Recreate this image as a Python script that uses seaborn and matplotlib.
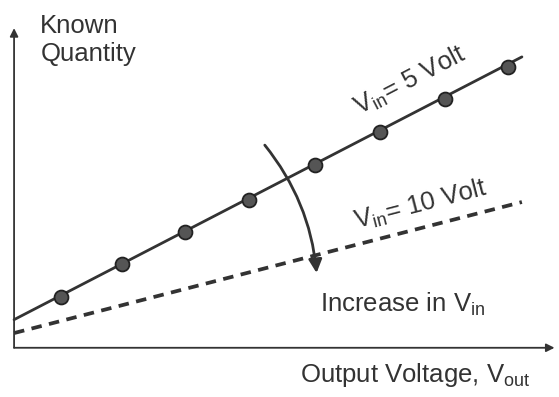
import numpy as np
import pandas as pd
import matplotlib
matplotlib.use("Agg")
import matplotlib.pyplot as plt
import seaborn as sns
from matplotlib.patches import FancyArrowPatch

# data (arbitrary units)
vout_points = [0.73, 1.69, 2.67, 3.67, 4.70, 5.72, 6.73, 7.73]
known_points = [0.80, 1.31, 1.81, 2.31, 2.86, 3.37, 3.89, 4.39]
line_x = [0.0, 7.94]
vin5_y = [0.44, 4.55]
vin10_y = [0.23, 2.28]

sns.set_style("white")
plt.rcParams['font.family'] = ['Liberation Sans', 'DejaVu Sans']
plt.rcParams['mathtext.fontset'] = 'custom'
plt.rcParams['mathtext.rm'] = 'Liberation Sans'

ink = '#333333'

fig = plt.figure(figsize=(5.59, 3.97), dpi=100)
ax = fig.add_axes([0, 0, 1, 1])

df_lines = pd.DataFrame({'x': line_x + line_x,
                         'y': vin5_y + vin10_y,
                         'vin': ['5'] * 2 + ['10'] * 2})
sns.lineplot(data=df_lines[df_lines.vin == '5'], x='x', y='y', ax=ax,
             color=ink, lw=2.0, legend=False)
sns.lineplot(data=df_lines[df_lines.vin == '10'], x='x', y='y', ax=ax,
             color=ink, lw=2.7, legend=False)
ax.lines[-1].set_linestyle((0, (2.8, 2.0)))
sns.scatterplot(x=vout_points, y=known_points, ax=ax, s=100,
                color='#555555', edgecolor='#222222', linewidth=1.3, zorder=5)

ax.set_xlim(-0.22, 8.52)
ax.set_ylim(-0.77, 5.44)
ax.axis('off')

# axes with arrow heads
ax.annotate('', xy=(0, 5.0), xytext=(0, 0),
            arrowprops=dict(arrowstyle='-|>', color=ink, lw=1.3,
                            mutation_scale=12, shrinkA=0, shrinkB=0))
ax.annotate('', xy=(8.45, 0), xytext=(0, 0),
            arrowprops=dict(arrowstyle='-|>', color=ink, lw=1.3,
                            mutation_scale=12, shrinkA=0, shrinkB=0))

# curved arrow
arr = FancyArrowPatch((3.92, 3.17), (4.73, 1.17),
                      connectionstyle='arc3,rad=-0.15',
                      arrowstyle='-|>', mutation_scale=20,
                      color=ink, lw=2.0, shrinkA=0, shrinkB=0)
ax.add_patch(arr)

fs = 18.5
ax.text(0.41, 5.22, 'Known\nQuantity', ha='left', va='top',
        fontsize=fs, color=ink, linespacing=1.2)
ax.text(6.19, 4.18, r'V$_\mathregular{in}$= 5 Volt', ha='center', va='center',
        rotation=27.4, rotation_mode='anchor', fontsize=fs, color=ink)
ax.text(6.36, 2.24, r'V$_\mathregular{in}$= 10 Volt', ha='center', va='center',
        rotation=14.5, rotation_mode='anchor', fontsize=fs, color=ink)
ax.text(4.78, 0.56, r'Increase in V$_\mathregular{in}$', ha='left',
        va='baseline', fontsize=fs, color=ink)
ax.text(4.47, -0.53, r'Output Voltage, V$_\mathregular{out}$', ha='left',
        va='baseline', fontsize=fs, color=ink)

fig.savefig('out.png', dpi=100)
